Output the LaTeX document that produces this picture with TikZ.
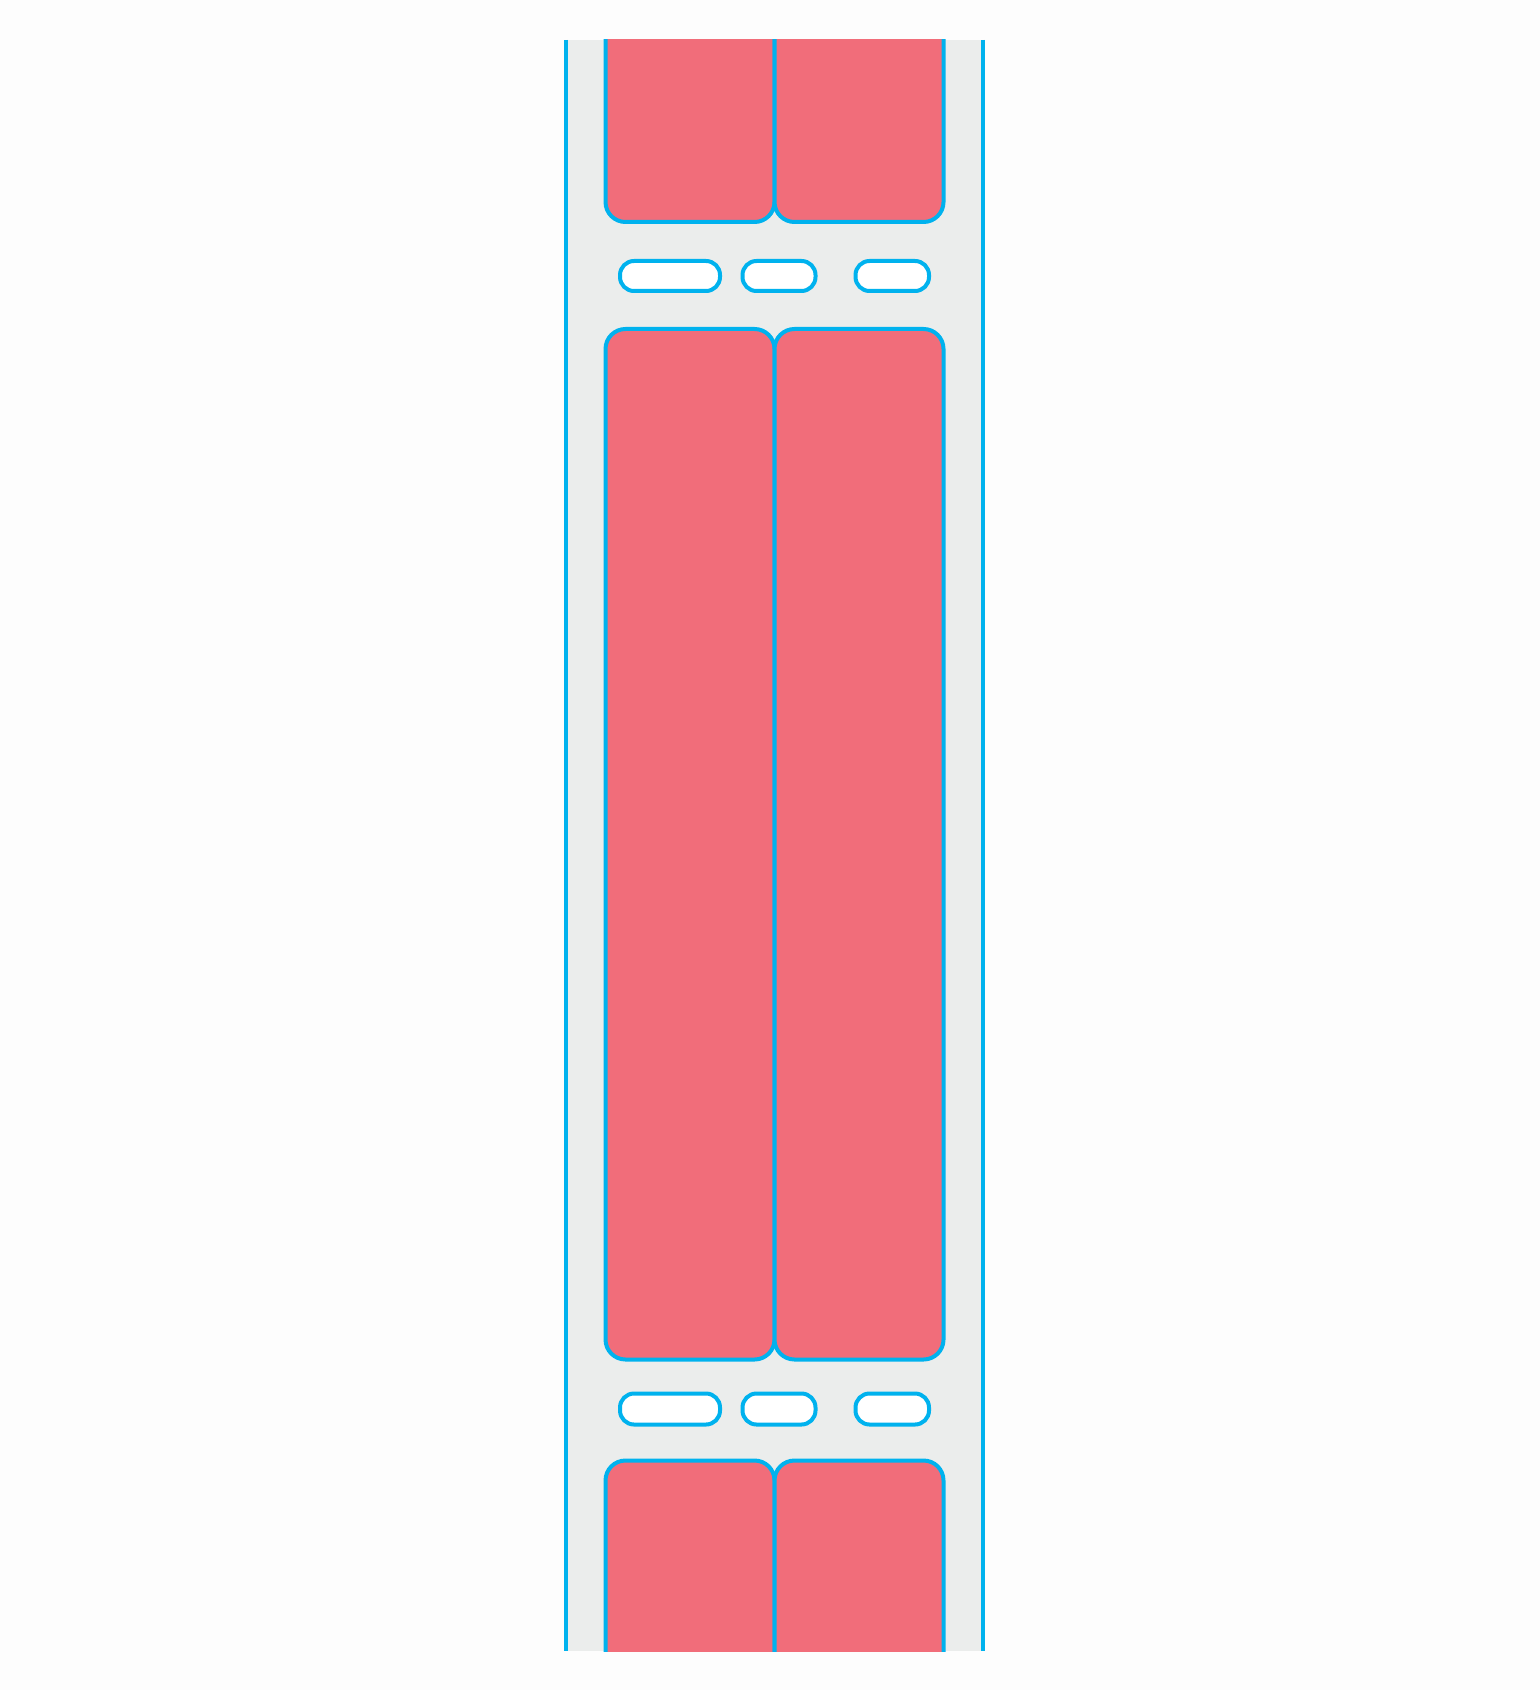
\documentclass[tikz,border=0pt]{standalone}
\begin{document}
\begin{tikzpicture}[x=0.5pt,y=-0.5pt,
  bluestroke/.style={draw=lineblue,line width=2pt},
  slab/.style={bluestroke,fill=slabred,rounded corners=10pt},
  pill/.style={bluestroke,fill=white,rounded corners=7pt}]
\definecolor{lineblue}{HTML}{00B2EE}
\definecolor{slabred}{HTML}{F16D7A}
\definecolor{stripgray}{HTML}{EBEDEC}
\definecolor{bggray}{HTML}{FDFDFD}
\fill[bggray] (0,0) rectangle (1540,1690);
\useasboundingbox (0,0) rectangle (1540,1690);
\begin{scope}
\clip (560,40) rectangle (990,1651);
\fill[stripgray] (566,40) rectangle (983,1651);
% top slabs
\draw[slab] (605.5,-100) rectangle (774.5,222);
\draw[slab] (774.5,-100) rectangle (943.5,222);
% middle slabs
\draw[slab] (605.5,329) rectangle (774.5,1359.5);
\draw[slab] (774.5,329) rectangle (943.5,1359.5);
% bottom slabs
\draw[slab] (605.5,1460.5) rectangle (774.5,1800);
\draw[slab] (774.5,1460.5) rectangle (943.5,1800);
% pills upper row
\draw[pill] (620,261) rectangle (720,291);
\draw[pill] (742.5,261) rectangle (815.5,291);
\draw[pill] (855.5,261) rectangle (929,291);
% pills lower row
\draw[pill] (620,1393.5) rectangle (720,1424.5);
\draw[pill] (742.5,1393.5) rectangle (815.5,1424.5);
\draw[pill] (855.5,1393.5) rectangle (929,1424.5);
% side rails
\draw[bluestroke] (566,40) -- (566,1651);
\draw[bluestroke] (983,40) -- (983,1651);
\end{scope}
\end{tikzpicture}
\end{document}
